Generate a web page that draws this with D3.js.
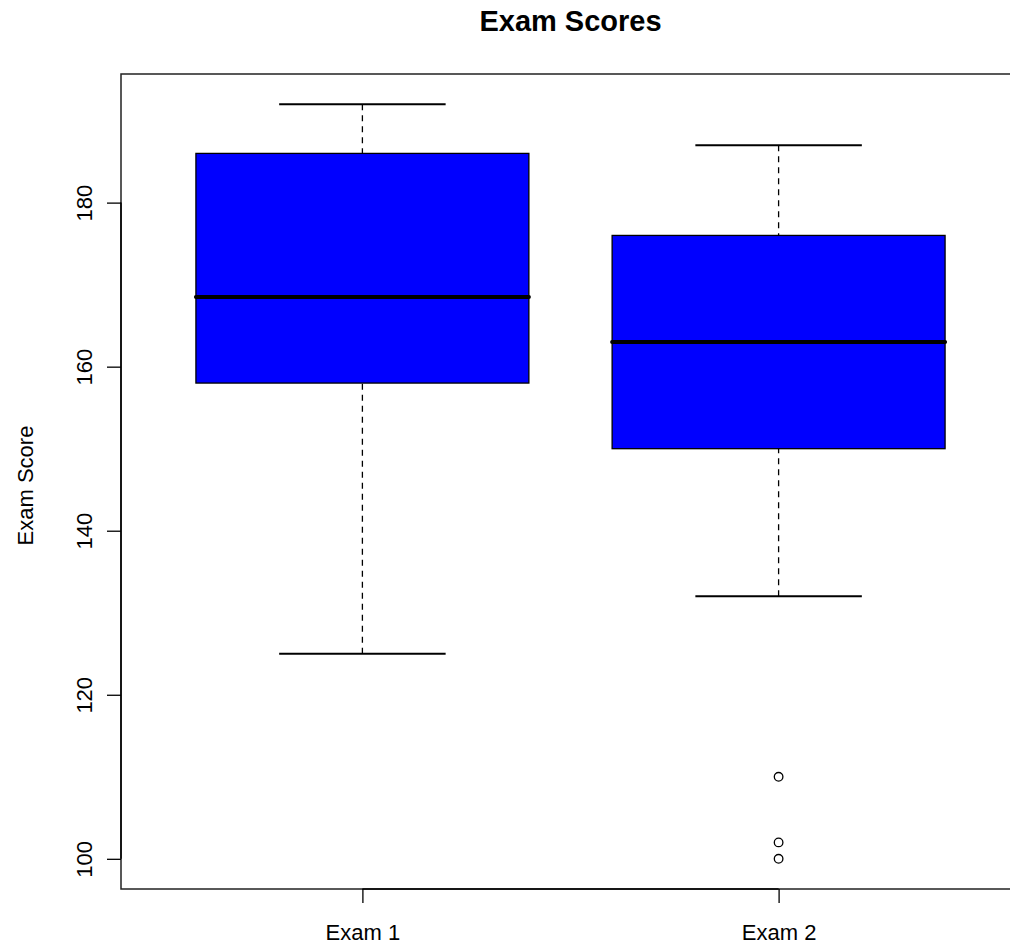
<!DOCTYPE html>
<html>
<head>
<meta charset="utf-8">
<script src="https://cdn.jsdelivr.net/npm/d3@7"></script>
<style>
  body { margin: 0; background: #fff; }
  svg { display: block; font-family: "Liberation Sans", Arial, sans-serif; }
</style>
</head>
<body>
<svg id="chart" width="1010" height="946"></svg>
<script>
// ---- data ----
const categories = ["Exam 1", "Exam 2"];
const lowerWhisker = [125, 132];
const q1Values = [158, 150];
const medians = [168.5, 163];
const q3Values = [186, 176];
const upperWhisker = [192, 187];
const outliers = [[], [110, 102, 100]];
const yTicks = [100, 120, 140, 160, 180];
const titleText = "Exam Scores";
const yLabel = "Exam Score";

(function () {
const svg = d3.select("#chart");
const pLeft = 121, pRight = 1020, pTop = 74, pBottom = 889;

const x = d3.scaleLinear().domain([0.42, 2.58]).range([pLeft, pRight]);
const y = d3.scaleLinear().domain([96.32, 195.68]).range([pBottom, pTop]);

const boxW = x(1.4) - x(1.0);   // half box width (0.4)
const capW = x(1.2) - x(1.0);   // half cap width (0.2)

const boxes = categories.map((c, i) => ({
  c, i, pos: i + 1,
  lo: lowerWhisker[i], q1: q1Values[i], med: medians[i], q3: q3Values[i], hi: upperWhisker[i],
  out: outliers[i]
}));

const g = svg.append("g");

// whiskers (dashed)
g.selectAll(".wlo").data(boxes).enter().append("line")
  .attr("x1", d => x(d.pos)).attr("x2", d => x(d.pos))
  .attr("y1", d => y(d.lo)).attr("y2", d => y(d.q1))
  .attr("stroke", "#000").attr("stroke-width", 1.3).attr("stroke-dasharray", "6,5");
g.selectAll(".whi").data(boxes).enter().append("line")
  .attr("x1", d => x(d.pos)).attr("x2", d => x(d.pos))
  .attr("y1", d => y(d.hi)).attr("y2", d => y(d.q3))
  .attr("stroke", "#000").attr("stroke-width", 1.3).attr("stroke-dasharray", "6,5");

// caps
["lo", "hi"].forEach(k => {
  g.selectAll(".cap" + k).data(boxes).enter().append("line")
    .attr("x1", d => x(d.pos) - capW).attr("x2", d => x(d.pos) + capW)
    .attr("y1", d => y(d[k])).attr("y2", d => y(d[k]))
    .attr("stroke", "#000").attr("stroke-width", 2);
});

// boxes
g.selectAll(".box").data(boxes).enter().append("rect")
  .attr("x", d => x(d.pos) - boxW)
  .attr("width", 2 * boxW)
  .attr("y", d => y(d.q3))
  .attr("height", d => y(d.q1) - y(d.q3))
  .attr("fill", "#0000FF").attr("stroke", "#000").attr("stroke-width", 1.3);

// medians
g.selectAll(".med").data(boxes).enter().append("line")
  .attr("x1", d => x(d.pos) - boxW).attr("x2", d => x(d.pos) + boxW)
  .attr("y1", d => y(d.med)).attr("y2", d => y(d.med))
  .attr("stroke", "#000").attr("stroke-width", 4).attr("stroke-linecap", "round");

// outliers
boxes.forEach(d => {
  g.selectAll(".out" + d.i).data(d.out).enter().append("circle")
    .attr("cx", x(d.pos)).attr("cy", v => y(v)).attr("r", 4.3)
    .attr("fill", "none").attr("stroke", "#000").attr("stroke-width", 1.3);
});

// plot frame
svg.append("rect").attr("x", pLeft).attr("y", pTop)
  .attr("width", pRight - pLeft).attr("height", pBottom - pTop)
  .attr("fill", "none").attr("stroke", "#222").attr("stroke-width", 1.5);

// y axis
const yAxis = d3.axisLeft(y).tickValues(yTicks).tickSize(14).tickPadding(0).tickFormat(d3.format("d"));
const ya = svg.append("g").attr("transform", `translate(${pLeft},0)`).call(yAxis);
ya.select(".domain").attr("d", `M0,${y(yTicks[0])}V${y(yTicks[yTicks.length-1])}`).attr("stroke", "#000").attr("stroke-width", 1.5);
ya.selectAll(".tick line").attr("stroke", "#000").attr("stroke-width", 1.3);
ya.selectAll(".tick text")
  .attr("x", 0).attr("dy", null).attr("y", 0)
  .attr("transform", "translate(-29,0) rotate(-90)")
  .attr("text-anchor", "middle")
  .attr("font-size", 22).attr("fill", "#000")
  .attr("font-family", "Liberation Sans, Arial, sans-serif");

// x axis
const xAxis = d3.axisBottom(x).tickValues(boxes.map(d => d.pos)).tickSize(14).tickFormat((d, i) => categories[i]);
const xa = svg.append("g").attr("transform", `translate(0,${pBottom})`).call(xAxis);
xa.select(".domain").attr("d", `M${x(1)},0H${x(2)}`).attr("stroke", "#000").attr("stroke-width", 1.5);
xa.selectAll(".tick line").attr("stroke", "#000").attr("stroke-width", 1.3);
xa.selectAll(".tick text")
  .attr("y", 51).attr("dy", null)
  .attr("font-size", 22).attr("fill", "#000")
  .attr("font-family", "Liberation Sans, Arial, sans-serif");

// title
svg.append("text").attr("x", (pLeft + pRight) / 2).attr("y", 31)
  .attr("text-anchor", "middle").attr("font-size", 29).attr("font-weight", "bold")
  .text(titleText);

// y label
svg.append("text").attr("transform", `translate(33,${(pTop + pBottom) / 2 + 4}) rotate(-90)`)
  .attr("text-anchor", "middle").attr("font-size", 22)
  .text(yLabel);
})();
</script>
</body>
</html>
